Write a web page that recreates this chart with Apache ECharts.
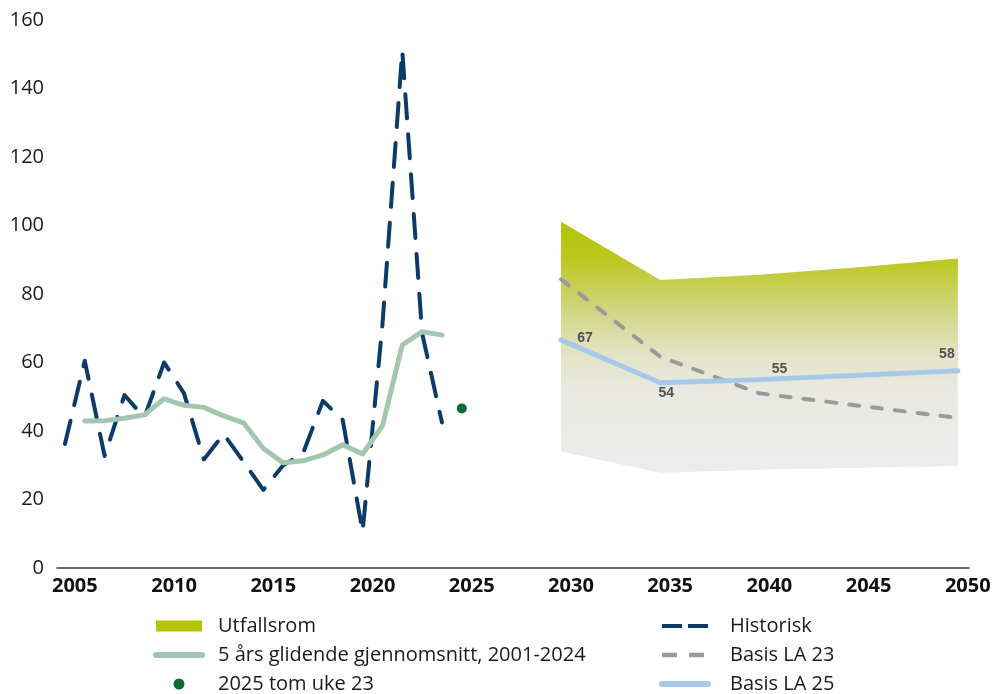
<!DOCTYPE html>
<html>
<head>
<meta charset="utf-8">
<script src="https://cdn.jsdelivr.net/npm/echarts@6/dist/echarts.min.js"></script>
<style>
  html, body { margin: 0; padding: 0; background: #fff; }
  #chart { width: 995px; height: 694px; }
</style>
</head>
<body>
<div id="chart"></div>
<script>
// x-axis labels (every 5th year)
var tickYears = [2005, 2010, 2015, 2020, 2025, 2030, 2035, 2040, 2045, 2050];

// historic series, 2005-2024
var histYears = [2005, 2006, 2007, 2008, 2009, 2010, 2011, 2012, 2013, 2014,
                 2015, 2016, 2017, 2018, 2019, 2020, 2021, 2022, 2023, 2024];
var historisk = [36.2, 60.5, 32.7, 50.5, 43.9, 60.0, 51.0, 31.7, 39.1, 31.0,
                 22.8, 30.0, 33.5, 48.8, 43.2, 10.6, 71.0, 151.0, 68.5, 42.5];

// 5-year moving average, 2006-2024
var avgYears = [2006, 2007, 2008, 2009, 2010, 2011, 2012, 2013, 2014, 2015,
                2016, 2017, 2018, 2019, 2020, 2021, 2022, 2023, 2024];
var glidende = [42.9, 43.0, 43.7, 44.7, 49.4, 47.5, 46.9, 44.4, 42.4, 34.9,
                30.7, 31.3, 33.0, 36.0, 33.3, 41.5, 65.1, 69.0, 68.0];

// 2025 so far (to week 23)
var dotYear = 2025;
var dotValue = 46.6;

// projections
var projYears = [2030, 2035, 2040, 2045, 2050];
var utfallLow = [34.0, 27.8, 28.7, 29.3, 29.8];
var utfallHigh = [101.1, 84.1, 85.6, 87.8, 90.4];
var basisLA23 = [84.3, 61.7, 51.0, 47.4, 43.8];
var basisLA25 = [66.6, 54.1, 55.0, 56.3, 57.6];
// which LA 25 points carry a value label, and where it sits
var labelOffsets = { 2030: [24, -2], 2035: [6, 10], 2040: [20, -10], 2050: [-11, -17] };

function pairs(xs, ys) {
  return xs.map(function (x, i) { return [x, ys[i]]; });
}

var font = "'Open Sans', 'Noto Sans', sans-serif";

var la25Data = projYears.map(function (yr, i) {
  var off = labelOffsets[yr];
  if (!off) return [yr, basisLA25[i]];
  return {
    value: [yr, basisLA25[i]],
    symbol: "circle",
    symbolSize: 0.01,
    label: { show: true, position: "inside", offset: off }
  };
});

var bandFill = new echarts.graphic.LinearGradient(0, 0, 0, 1, [
  { offset: 0, color: "#b3c200" },
  { offset: 0.15, color: "#bcc720" },
  { offset: 0.38, color: "#d3d88c" },
  { offset: 0.52, color: "#e2e3c4" },
  { offset: 0.66, color: "#e9e9e0" },
  { offset: 1, color: "#ececee" }
]);

// the line icons in the legend get a dot by default; hide it
var noDot = { opacity: 0 };

var chart = echarts.init(document.getElementById("chart"), null, { renderer: "canvas" });

chart.setOption({
  animation: false,
  backgroundColor: "#fff",
  grid: { left: 57, right: 26, top: 20, bottom: 126, containLabel: false },
  xAxis: [
    {
      // label axis
      type: "value",
      min: 2004.1,
      max: 2050.06,
      axisLine: { show: true, lineStyle: { color: "#3a3a3a", width: 1.5 } },
      axisTick: { show: false },
      splitLine: { show: false },
      axisLabel: {
        customValues: tickYears,
        margin: 8,
        color: "#111",
        fontFamily: font,
        fontSize: 20,
        fontWeight: "bold",
        formatter: function (v) { return String(v); }
      }
    },
    {
      // data axis, shifted half a year against the labels
      type: "value",
      min: 2004.6,
      max: 2050.56,
      show: false
    }
  ],
  yAxis: {
    type: "value",
    min: 0,
    max: 160,
    interval: 20,
    axisLine: { show: false },
    axisTick: { show: false },
    splitLine: { show: false },
    axisLabel: { margin: 13, color: "#1a1a1a", fontFamily: font, fontSize: 20 }
  },
  legend: [
    {
      orient: "vertical",
      left: 153,
      top: 616,
      height: 82,
      padding: 0,
      itemWidth: 46,
      itemHeight: 11,
      itemGap: 9,
      textStyle: { fontFamily: font, fontSize: 20, color: "#1a1a1a", lineHeight: 20, padding: [0, 0, 0, 11] },
      data: [
        { name: "Utfallsrom", icon: "rect", itemStyle: { color: "#b5c300" } },
        { name: "5 års glidende gjennomsnitt, 2001-2024", itemStyle: noDot,
          lineStyle: { width: 6, cap: "round" } },
        { name: "2025 tom uke 23", icon: "circle" }
      ]
    },
    {
      orient: "vertical",
      left: 659,
      top: 616,
      height: 82,
      padding: 0,
      itemWidth: 46,
      itemHeight: 11,
      itemGap: 9,
      textStyle: { fontFamily: font, fontSize: 20, color: "#1a1a1a", lineHeight: 20, padding: [0, 0, 0, 17] },
      data: [
        { name: "Historisk", itemStyle: noDot, lineStyle: { width: 4, type: [20, 6], cap: "butt" } },
        { name: "Basis LA 23", itemStyle: noDot, lineStyle: { width: 4.5, type: [15, 12], cap: "butt" } },
        { name: "Basis LA 25", itemStyle: noDot, lineStyle: { width: 6, cap: "round" } }
      ]
    }
  ],
  series: [
    {
      name: "Utfallsrom",
      type: "custom",
      xAxisIndex: 1,
      silent: true,
      itemStyle: { color: "#b5c300" },
      data: projYears.map(function (yr, i) { return [yr, utfallLow[i], utfallHigh[i]]; }),
      encode: { x: 0, y: [1, 2] },
      renderItem: function (params, api) {
        if (params.dataIndex !== 0) return null;
        var pts = [];
        var i;
        for (i = 0; i < projYears.length; i++) pts.push(api.coord([projYears[i], utfallHigh[i]]));
        for (i = projYears.length - 1; i >= 0; i--) pts.push(api.coord([projYears[i], utfallLow[i]]));
        return { type: "polygon", shape: { points: pts }, style: { fill: bandFill } };
      }
    },
    {
      name: "Basis LA 23",
      type: "line",
      xAxisIndex: 1,
      data: pairs(projYears, basisLA23),
      symbol: "none",
      itemStyle: { color: "#9a9a9a" },
      lineStyle: { color: "#9a9a9a", width: 4, type: [10, 13], cap: "round" }
    },
    {
      name: "Basis LA 25",
      type: "line",
      xAxisIndex: 1,
      data: la25Data,
      symbol: "none",
      itemStyle: { color: "#a6c9ea" },
      lineStyle: { color: "#a6c9ea", width: 5, cap: "round", join: "round" },
      label: {
        color: "#505050",
        fontFamily: "'Liberation Sans', Arial, sans-serif",
        fontWeight: "bold",
        fontSize: 14,
        formatter: function (p) { return Math.round(p.value[1]); }
      }
    },
    {
      name: "Historisk",
      type: "line",
      xAxisIndex: 1,
      data: pairs(histYears, historisk),
      symbol: "none",
      itemStyle: { color: "#0b3b68" },
      lineStyle: { color: "#0b3b68", width: 4, type: [24, 16], cap: "round", join: "round" }
    },
    {
      name: "5 års glidende gjennomsnitt, 2001-2024",
      type: "line",
      xAxisIndex: 1,
      data: pairs(avgYears, glidende),
      symbol: "none",
      itemStyle: { color: "#a2c6b0" },
      lineStyle: { color: "#a2c6b0", width: 5, cap: "round", join: "round" }
    },
    {
      name: "2025 tom uke 23",
      type: "scatter",
      xAxisIndex: 1,
      data: [[dotYear, dotValue]],
      symbolSize: 10,
      itemStyle: { color: "#0c6b35", opacity: 1 }
    }
  ]
});
</script>
</body>
</html>
